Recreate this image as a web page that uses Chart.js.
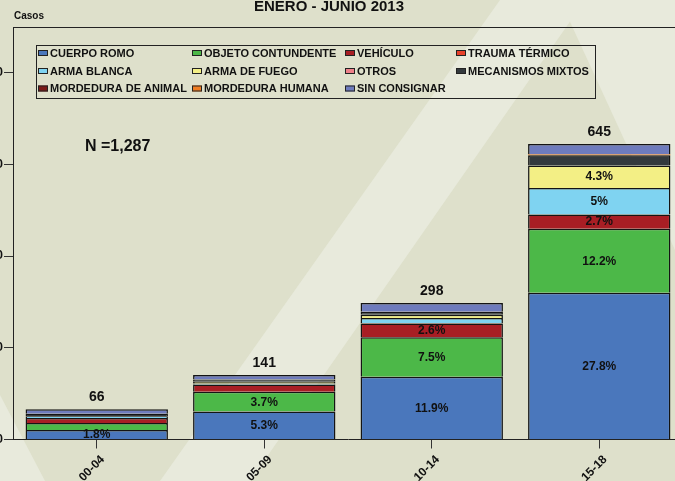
<!DOCTYPE html>
<html><head><meta charset="utf-8">
<script src="https://cdn.jsdelivr.net/npm/chart.js@4/dist/chart.umd.min.js"></script>
<style>
html,body{margin:0;padding:0;overflow:hidden;background:#dee0cb;width:675px;height:481px;}
#wrap{position:absolute;left:-40px;top:0;width:740px;height:481px;}
</style></head><body>
<div id="wrap"><canvas id="c" width="740" height="481"></canvas></div>
<script>
// ---- data ----
const categories = ['00-04', '05-09', '10-14', '15-18'];
const cuerpoRomo        = [21, 61, 137, 320];
const objetoContundente = [15, 43, 86, 140];
const vehiculo          = [11, 16, 30, 31];
const traumaTermico     = [0, 0, 1, 0];
const armaBlanca        = [4, 2, 11, 58];
const armaFuego         = [0, 4, 7, 49];
const otros             = [0, 0, 0, 0];
const mecanismosMixtos  = [5, 5, 6, 22];
const mordeduraAnimal   = [0, 0, 1, 0];
const mordeduraHumana   = [0, 0, 0, 2];
const sinConsignar      = [10, 10, 19, 23];
const totals = [66, 141, 298, 645];
const pctCuerpoRomo  = ['1.8%', '5.3%', '11.9%', '27.8%'];
const pctObjeto      = [null, '3.7%', '7.5%', '12.2%'];
const pctVehiculo    = [null, null, '2.6%', '2.7%'];
const pctArmaBlanca  = [null, null, null, '5%'];
const pctArmaFuego   = [null, null, null, '4.3%'];
const yTicks = [0, 200, 400, 600, 800];
const yMax = 900;
const titleText = 'ENERO - JUNIO 2013';
const yAxisTitle = 'Casos';
const nText = 'N =1,287';

const OFF = 40; // canvas shifted left by this many px
const FONT = '"Liberation Sans", Arial, sans-serif';

const series = [
  {label: 'CUERPO ROMO', data: cuerpoRomo, color: '#4a77bc', pct: pctCuerpoRomo},
  {label: 'OBJETO CONTUNDENTE', data: objetoContundente, color: '#4cb848', pct: pctObjeto},
  {label: 'VEHÍCULO', data: vehiculo, color: '#a81e24', pct: pctVehiculo},
  {label: 'TRAUMA TÉRMICO', data: traumaTermico, color: '#e8412b', pct: null},
  {label: 'ARMA BLANCA', data: armaBlanca, color: '#7fd3f1', pct: pctArmaBlanca},
  {label: 'ARMA DE FUEGO', data: armaFuego, color: '#f3ef85', pct: pctArmaFuego},
  {label: 'OTROS', data: otros, color: '#ee8089', pct: null},
  {label: 'MECANISMOS MIXTOS', data: mecanismosMixtos, color: '#33393d', pct: null},
  {label: 'MORDEDURA DE ANIMAL', data: mordeduraAnimal, color: '#7b1a17', pct: null},
  {label: 'MORDEDURA HUMANA', data: mordeduraHumana, color: '#f07d22', pct: null, bw: 0},
  {label: 'SIN CONSIGNAR', data: sinConsignar, color: '#6e7bbd', pct: null}
];

const decor = {
  id: 'decor',
  beforeDraw(chart) {
    const ctx = chart.ctx;
    ctx.save();
    ctx.translate(OFF, 0);
    ctx.fillStyle = '#dee0cb';
    ctx.fillRect(-OFF, 0, 740, 481);
    ctx.fillStyle = '#e8eadc';
    const polys = [
      [[500, 0], [585, 0], [250, 481], [160, 481]],
      [[560, 0], [700, 0], [700, 260], [675, 250]],
      [[0, 395], [0, 481], [45, 481]]
    ];
    polys.forEach(p => {
      ctx.beginPath();
      ctx.moveTo(p[0][0], p[0][1]);
      for (let i = 1; i < p.length; i++) ctx.lineTo(p[i][0], p[i][1]);
      ctx.closePath();
      ctx.fill();
    });
    ctx.restore();
  },
  afterDatasetsDraw(chart) {
    const ctx = chart.ctx;
    const area = chart.chartArea;
    ctx.save();
    // frame top line
    ctx.strokeStyle = '#222';
    ctx.lineWidth = 1;
    ctx.beginPath();
    ctx.moveTo(area.left, Math.round(area.top) + 0.5);
    ctx.lineTo(area.right, Math.round(area.top) + 0.5);
    ctx.stroke();

    // segment percentage labels
    ctx.fillStyle = '#111';
    ctx.font = 'bold 12px ' + FONT;
    ctx.textAlign = 'center';
    ctx.textBaseline = 'middle';
    series.forEach((s, di) => {
      if (!s.pct) return;
      const meta = chart.getDatasetMeta(di);
      meta.data.forEach((bar, i) => {
        const t = s.pct[i];
        if (!t) return;
        const p = bar.getProps(['x', 'y', 'base'], true);
        ctx.fillText(t, p.x, (p.y + p.base) / 2 + 0.5);
      });
    });

    // totals above bars
    ctx.font = 'bold 14px ' + FONT;
    ctx.textBaseline = 'alphabetic';
    const ys = chart.scales.y;
    const xs = chart.scales.x;
    totals.forEach((t, i) => {
      ctx.fillText(String(t), xs.getPixelForValue(i), ys.getPixelForValue(t) - 8);
    });

    // texts in page coords
    ctx.translate(OFF, 0);
    ctx.textAlign = 'left';
    ctx.font = 'bold 16px ' + FONT;
    ctx.fillText(nText, 85, 151);
    ctx.textAlign = 'center';
    ctx.font = 'bold 15px ' + FONT;
    ctx.fillText(titleText, 329, 10.5);
    ctx.textAlign = 'left';
    ctx.font = 'bold 10px ' + FONT;
    ctx.fillText(yAxisTitle, 14, 18.5);

    // legend box
    ctx.strokeStyle = '#222';
    ctx.lineWidth = 1;
    ctx.strokeRect(36.5, 45.5, 559, 53);
    const colSw = [38, 192, 345, 456];
    const colTx = [50, 204, 357, 468];
    const rowC = [53, 71, 88.5];
    ctx.font = 'bold 11px ' + FONT;
    ctx.textBaseline = 'middle';
    series.forEach((s, k) => {
      const r = Math.floor(k / 4), c = k % 4;
      ctx.fillStyle = s.color;
      ctx.fillRect(colSw[c], rowC[r] - 3, 10, 6);
      ctx.strokeStyle = '#222';
      ctx.strokeRect(colSw[c] + 0.5, rowC[r] - 2.5, 9, 5);
      ctx.fillStyle = '#111';
      ctx.fillText(s.label, colTx[c], rowC[r] + 0.5);
    });
    ctx.restore();
  }
};

new Chart(document.getElementById('c'), {
  type: 'bar',
  data: {
    labels: categories,
    datasets: series.map(s => ({
      label: s.label,
      data: s.data,
      backgroundColor: s.color,
      borderColor: '#141414',
      borderWidth: s.bw === undefined ? 1.5 : s.bw,
      barPercentage: 0.85,
      categoryPercentage: 1
    }))
  },
  options: {
    responsive: false,
    animation: false,
    devicePixelRatio: 1,
    layout: {padding: {top: 27, right: 17, bottom: 0, left: 0}},
    plugins: {legend: {display: false}, tooltip: {enabled: false}, title: {display: false}},
    scales: {
      x: {
        stacked: true,
        grid: {display: true, drawOnChartArea: false, drawTicks: true, tickLength: 9, color: '#333', offset: false},
        border: {display: true, color: '#222', width: 1},
        ticks: {font: {family: FONT, size: 12, weight: 'bold'}, color: '#111', minRotation: 45, maxRotation: 45, padding: 4, labelOffset: 6},
        afterFit(scale) { scale.height = 41.5; }
      },
      y: {
        stacked: true,
        min: 0,
        max: yMax,
        grid: {display: true, drawOnChartArea: false, drawTicks: true, tickLength: 9, color: '#333'},
        border: {display: true, color: '#222', width: 1},
        ticks: {font: {family: FONT, size: 12, weight: 'bold'}, color: '#111', padding: 1, stepSize: 200},
        afterBuildTicks(scale) { scale.ticks = yTicks.map(v => ({value: v})); },
        afterFit(scale) { scale.width = 53; }
      }
    }
  },
  plugins: [decor]
});
</script>
</body></html>
